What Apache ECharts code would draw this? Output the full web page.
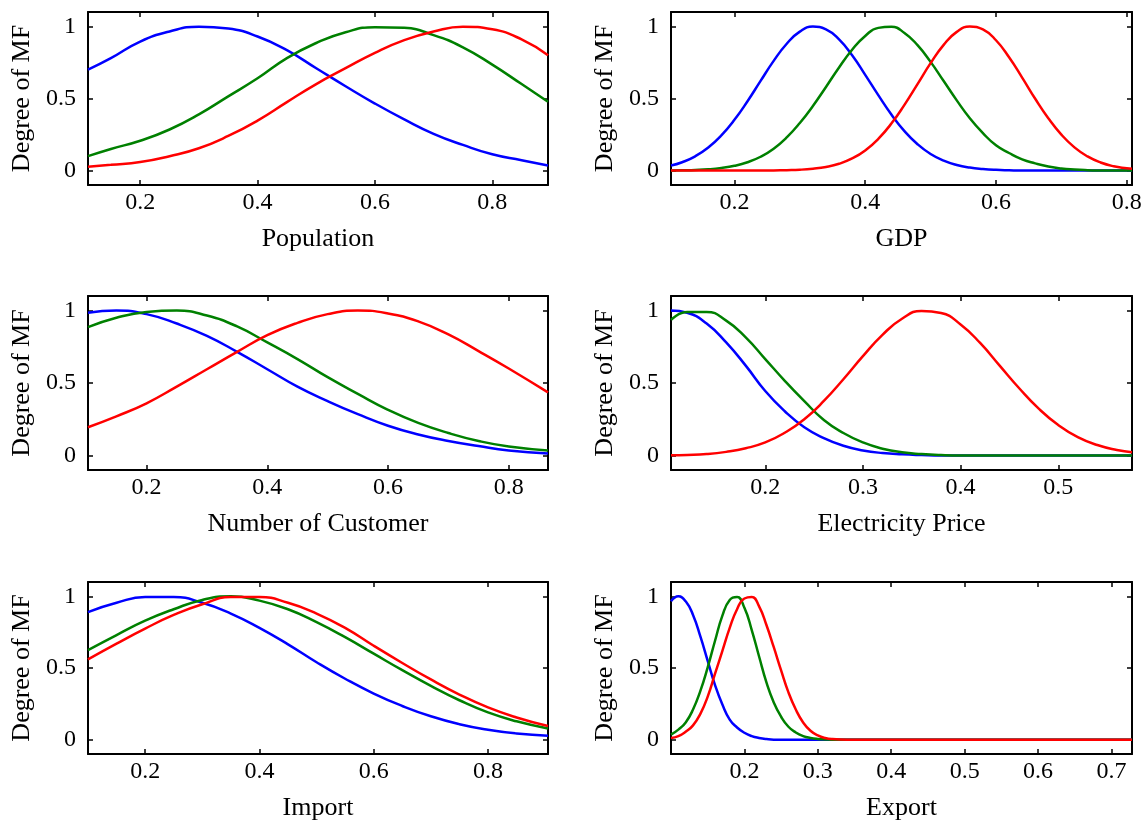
<!DOCTYPE html>
<html>
<head>
<meta charset="utf-8">
<script src="https://cdn.jsdelivr.net/npm/echarts@6/dist/echarts.min.js"></script>
<style>
  html, body { margin: 0; padding: 0; background: #fff; }
  #chart { width: 1148px; height: 826px; }
</style>
</head>
<body>
<div id="chart"></div>
<script>
// Membership function samples

// Population
const popX = [0.111, 0.15, 0.2, 0.25, 0.3, 0.35, 0.4, 0.45, 0.5, 0.55, 0.6, 0.65, 0.7, 0.75, 0.8, 0.85, 0.895];
const popBlue = [0.70, 0.78, 0.895, 0.965, 0.998, 0.985, 0.93, 0.835, 0.71, 0.585, 0.465, 0.355, 0.255, 0.178, 0.113, 0.072, 0.035];
const popGreen = [0.10, 0.15, 0.207, 0.285, 0.39, 0.515, 0.64, 0.78, 0.885, 0.96, 0.995, 0.99, 0.94, 0.855, 0.735, 0.60, 0.477];
const popRed = [0.026, 0.04, 0.059, 0.10, 0.155, 0.24, 0.347, 0.475, 0.60, 0.71, 0.817, 0.905, 0.965, 0.998, 0.98, 0.91, 0.80];

// GDP
const gdpX = [0.103, 0.12, 0.14, 0.16, 0.18, 0.2, 0.22, 0.24, 0.26, 0.28, 0.3, 0.32, 0.34, 0.36, 0.38, 0.4, 0.42, 0.44, 0.46,
  0.48, 0.5, 0.52, 0.54, 0.56, 0.58, 0.6, 0.62, 0.64, 0.66, 0.68, 0.7, 0.72, 0.74, 0.76, 0.78, 0.8, 0.808];
const gdpBlue = [0.035, 0.058, 0.099, 0.16, 0.244, 0.352, 0.481, 0.622, 0.761, 0.88, 0.964, 0.999, 0.98, 0.91, 0.80, 0.664, 0.523, 0.389, 0.274,
  0.183, 0.115, 0.069, 0.039, 0.021, 0.011, 0.005, 0.002, 0, 0, 0, 0, 0, 0, 0, 0, 0, 0];
const gdpGreen = [0, 0.002, 0.0045, 0.009, 0.018, 0.033, 0.058, 0.096, 0.152, 0.23, 0.33, 0.448, 0.58, 0.715, 0.838, 0.934, 0.99, 0.997, 0.955,
  0.87, 0.754, 0.621, 0.487, 0.363, 0.26, 0.175, 0.122, 0.078, 0.05, 0.028, 0.014, 0.007, 0.003, 0.001, 0, 0, 0];
const gdpRed = [0, 0, 0, 0, 0, 0, 0, 0, 0.001, 0.003, 0.006, 0.013, 0.025, 0.047, 0.084, 0.14, 0.22, 0.326, 0.456,
  0.60, 0.745, 0.872, 0.962, 0.999, 0.979, 0.904, 0.786, 0.645, 0.498, 0.363, 0.249, 0.161, 0.098, 0.056, 0.03, 0.016, 0.012];

// Number of Customer
const custX = [0.103, 0.15, 0.2, 0.25, 0.3, 0.35, 0.4, 0.45, 0.5, 0.55, 0.6, 0.65, 0.7, 0.75, 0.8, 0.865];
const custBlue = [0.985, 1.0, 0.975, 0.91, 0.825, 0.715, 0.595, 0.475, 0.375, 0.285, 0.205, 0.145, 0.10, 0.065, 0.035, 0.014];
const custGreen = [0.885, 0.95, 0.99, 1.0, 0.965, 0.89, 0.78, 0.665, 0.54, 0.425, 0.315, 0.225, 0.155, 0.10, 0.062, 0.035];
const custRed = [0.195, 0.27, 0.36, 0.475, 0.595, 0.715, 0.83, 0.915, 0.975, 1.0, 0.98, 0.925, 0.835, 0.72, 0.60, 0.435];

// Electricity Price
const priceX = [0.1035, 0.12, 0.14, 0.16, 0.18, 0.2, 0.22, 0.24, 0.26, 0.28, 0.3, 0.32, 0.34, 0.36, 0.38, 0.4, 0.42, 0.44, 0.46, 0.48, 0.5, 0.52, 0.54, 0.56, 0.5755];
const priceBlue = [1.0, 0.985, 0.91, 0.78, 0.62, 0.445, 0.305, 0.195, 0.12, 0.067, 0.035, 0.017, 0.008, 0.003, 0, 0, 0, 0, 0, 0, 0, 0, 0, 0, 0];
const priceGreen = [0.935, 0.99, 0.99, 0.93, 0.815, 0.665, 0.515, 0.375, 0.245, 0.155, 0.09, 0.047, 0.022, 0.01, 0.003, 0, 0, 0, 0, 0, 0, 0, 0, 0, 0];
const priceRed = [0.002, 0.004, 0.01, 0.025, 0.05, 0.09, 0.157, 0.25, 0.376, 0.526, 0.685, 0.832, 0.943, 0.997, 0.983, 0.904, 0.776, 0.62, 0.464, 0.323, 0.21, 0.127, 0.072, 0.038, 0.022];

// Import
const impX = [0.1, 0.15, 0.2, 0.25, 0.3, 0.35, 0.4, 0.45, 0.5, 0.55, 0.6, 0.65, 0.7, 0.75, 0.8, 0.85, 0.905];
const impBlue = [0.89, 0.955, 0.995, 0.995, 0.955, 0.88, 0.78, 0.665, 0.54, 0.425, 0.322, 0.235, 0.163, 0.108, 0.069, 0.043, 0.027];
const impGreen = [0.625, 0.73, 0.83, 0.91, 0.975, 1.0, 0.97, 0.91, 0.82, 0.715, 0.60, 0.485, 0.375, 0.275, 0.19, 0.128, 0.078];
const impRed = [0.56, 0.67, 0.775, 0.87, 0.945, 0.995, 0.995, 0.955, 0.88, 0.78, 0.655, 0.535, 0.42, 0.315, 0.225, 0.155, 0.095];

// Export
const expX = [0.1, 0.11, 0.12, 0.13, 0.14, 0.15, 0.16, 0.17, 0.18, 0.19, 0.2, 0.21, 0.22, 0.23, 0.24, 0.25, 0.26, 0.27, 0.28, 0.29, 0.3, 0.31, 0.32, 0.34, 0.4, 0.5, 0.6, 0.7, 0.728];
const expBlue = [0.965, 1.0, 0.965, 0.87, 0.72, 0.55, 0.38, 0.245, 0.14, 0.085, 0.048, 0.025, 0.012, 0.004, 0, 0, 0, 0, 0, 0, 0, 0, 0, 0, 0, 0, 0, 0, 0];
const expGreen = [0.035, 0.07, 0.12, 0.21, 0.34, 0.505, 0.69, 0.865, 0.975, 0.995, 0.92, 0.765, 0.58, 0.40, 0.26, 0.16, 0.09, 0.05, 0.025, 0.012, 0.005, 0.002, 0, 0, 0, 0, 0, 0, 0];
const expRed = [0.012, 0.025, 0.055, 0.10, 0.18, 0.30, 0.46, 0.62, 0.78, 0.91, 0.985, 0.995, 0.93, 0.80, 0.645, 0.483, 0.33, 0.21, 0.12, 0.062, 0.03, 0.012, 0.004, 0, 0, 0, 0, 0, 0];

// Tick labels
const ticksFifth = [0.2, 0.4, 0.6, 0.8];
const ticksPrice = [0.2, 0.3, 0.4, 0.5];
const ticksExport = [0.2, 0.3, 0.4, 0.5, 0.6, 0.7];
const ticksY = [0, 0.5, 1];
const yLabel = 'Degree of MF';

const colors = { blue: '#0000FF', green: '#008000', red: '#FF0000', axis: '#000000' };
const font = '"Liberation Serif", "Times New Roman", serif';

const panels = [
  { name: 'Population', x: popX, ys: [popBlue, popGreen, popRed], min: 0.111, max: 0.895, ticks: ticksFifth, grid: { left: 88, top: 12, width: 460, height: 173 } },
  { name: 'GDP', x: gdpX, ys: [gdpBlue, gdpGreen, gdpRed], min: 0.103, max: 0.808, ticks: ticksFifth, grid: { left: 671, top: 12, width: 461, height: 173 } },
  { name: 'Number of Customer', x: custX, ys: [custBlue, custGreen, custRed], min: 0.103, max: 0.865, ticks: ticksFifth, grid: { left: 88, top: 296, width: 460, height: 174 } },
  { name: 'Electricity Price', x: priceX, ys: [priceBlue, priceGreen, priceRed], min: 0.1035, max: 0.5755, ticks: ticksPrice, grid: { left: 671, top: 296, width: 461, height: 174 } },
  { name: 'Import', x: impX, ys: [impBlue, impGreen, impRed], min: 0.1, max: 0.905, ticks: ticksFifth, grid: { left: 88, top: 582, width: 460, height: 172 } },
  { name: 'Export', x: expX, ys: [expBlue, expGreen, expRed], min: 0.1, max: 0.728, ticks: ticksExport, grid: { left: 671, top: 582, width: 461, height: 172 } }
];

const lineColors = [colors.blue, colors.green, colors.red];
const boxLine = { show: true, onZero: false, lineStyle: { color: colors.axis, width: 2 } };
const tickStyle = { color: colors.axis, width: 1.5 };

const grid = [], xAxis = [], yAxis = [], series = [];

panels.forEach(function (p, i) {
  grid.push(Object.assign({ containLabel: false }, p.grid));

  // bottom + top x axes
  xAxis.push({
    gridIndex: i, type: 'value', position: 'bottom', min: p.min, max: p.max,
    name: p.name, nameLocation: 'middle', nameGap: 41,
    nameTextStyle: { fontFamily: font, fontSize: 26, color: colors.axis },
    axisLine: boxLine,
    axisTick: { inside: true, length: 5, customValues: p.ticks, lineStyle: tickStyle },
    axisLabel: { customValues: p.ticks, margin: 6, fontFamily: font, fontSize: 24, color: colors.axis, formatter: v => v.toFixed(1) },
    splitLine: { show: false }
  });
  xAxis.push({
    gridIndex: i, type: 'value', position: 'top', min: p.min, max: p.max,
    axisLine: boxLine,
    axisTick: { inside: true, length: 5, customValues: p.ticks, lineStyle: tickStyle },
    axisLabel: { show: false },
    splitLine: { show: false }
  });

  // left + right y axes
  yAxis.push({
    gridIndex: i, type: 'value', position: 'left', min: -0.1, max: 1.1,
    name: yLabel, nameLocation: 'middle', nameGap: 53,
    nameTextStyle: { fontFamily: font, fontSize: 26, color: colors.axis },
    axisLine: boxLine,
    axisTick: { inside: true, length: 5, customValues: ticksY, lineStyle: tickStyle },
    axisLabel: { customValues: ticksY, margin: 12, fontFamily: font, fontSize: 24, color: colors.axis },
    splitLine: { show: false }
  });
  yAxis.push({
    gridIndex: i, type: 'value', position: 'right', min: -0.1, max: 1.1,
    axisLine: boxLine,
    axisTick: { inside: true, length: 5, customValues: ticksY, lineStyle: tickStyle },
    axisLabel: { show: false },
    splitLine: { show: false }
  });

  p.ys.forEach(function (ys, k) {
    series.push({
      type: 'line',
      xAxisIndex: 2 * i,
      yAxisIndex: 2 * i,
      data: p.x.map((x, j) => [x, ys[j]]),
      showSymbol: false,
      smooth: 0.5,
      clip: true,
      lineStyle: { color: lineColors[k], width: 2.5 },
      itemStyle: { color: lineColors[k] },
      z: 2 + k
    });
  });
});

const chart = echarts.init(document.getElementById('chart'));
chart.setOption({
  animation: false,
  backgroundColor: '#ffffff',
  textStyle: { fontFamily: font },
  grid: grid,
  xAxis: xAxis,
  yAxis: yAxis,
  series: series
});
</script>
</body>
</html>
